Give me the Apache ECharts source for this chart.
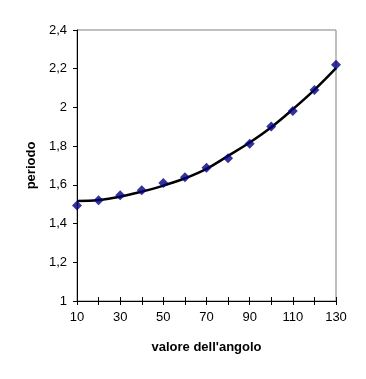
<!DOCTYPE html>
<html>
<head>
<meta charset="utf-8">
<script src="https://cdn.jsdelivr.net/npm/echarts@6/dist/echarts.min.js"></script>
<style>html,body{margin:0;padding:0;background:#fff}#c{width:366px;height:379px}</style>
</head>
<body>
<div id="c"></div>
<script>
const categories = ['10','20','30','40','50','60','70','80','90','100','110','120','130'];
const periodo = [1.494,1.52,1.546,1.572,1.61,1.639,1.688,1.738,1.813,1.902,1.981,2.09,2.221];
const trend = [1.517,1.522,1.539,1.565,1.596,1.634,1.683,1.75,1.819,1.898,1.991,2.091,2.203];
const xTitle = "valore dell'angolo";
const yTitle = 'periodo';

const chart = echarts.init(document.getElementById('c'), null, {renderer:'canvas'});
const font = 'Liberation Sans, Arial, sans-serif';
chart.setOption({
  animation:false,
  backgroundColor:'#fff',
  grid:{left:77,right:30,top:30,bottom:78,show:true,borderColor:'#808080',borderWidth:1,backgroundColor:'transparent'},
  xAxis:[{
    type:'category',data:categories,boundaryGap:false,
    name:xTitle,nameLocation:'middle',nameGap:40,
    nameTextStyle:{fontFamily:font,fontSize:13,fontWeight:'bold',color:'#000'},
    axisLine:{lineStyle:{color:'#000',width:1}},
    axisTick:{show:true,interval:0,length:4,inside:false,lineStyle:{color:'#000'}},
    axisLabel:{interval:1,fontFamily:font,fontSize:13,color:'#000',margin:10},
    splitLine:{show:false}
  },{
    type:'category',data:categories,boundaryGap:false,position:'bottom',
    axisLine:{show:false},
    axisTick:{show:true,interval:0,length:4,inside:true,lineStyle:{color:'#000'}},
    axisLabel:{show:false},splitLine:{show:false}
  }],
  yAxis:{
    type:'value',min:1,max:2.4,interval:0.2,
    name:yTitle,nameLocation:'middle',nameGap:36,
    nameTextStyle:{fontFamily:font,fontSize:13,fontWeight:'bold',color:'#000'},
    axisLine:{show:true,lineStyle:{color:'#000',width:1}},
    axisTick:{show:true,length:4,lineStyle:{color:'#000'}},
    axisLabel:{fontFamily:font,fontSize:13,color:'#000',margin:10,
      formatter:v=>String(+v.toFixed(1)).replace('.',',')},
    splitLine:{show:false}
  },
  series:[{
    type:'line',data:trend,smooth:0.4,symbol:'none',z:2,
    lineStyle:{color:'#000',width:2.5}
  },{
    type:'scatter',data:periodo,symbol:'diamond',symbolSize:10,z:3,
    itemStyle:{color:'#000080'}
  }]
});
</script>
</body>
</html>
